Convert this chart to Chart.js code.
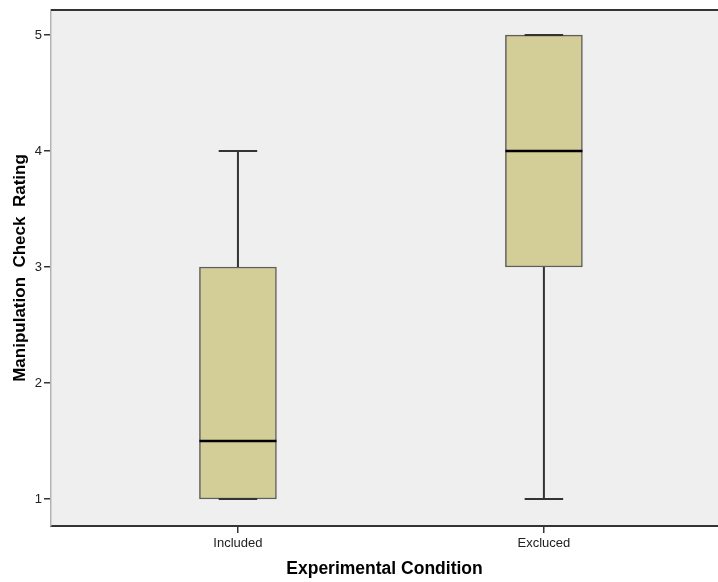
<!DOCTYPE html>
<html>
<head>
<meta charset="utf-8">
<script src="https://cdn.jsdelivr.net/npm/chart.js@4/dist/chart.umd.min.js"></script>
<style>
  html, body { margin: 0; padding: 0; background: #ffffff; }
  #wrap { width: 718px; height: 582px; }
</style>
</head>
<body>
<div id="wrap"><canvas id="c" width="718" height="582"></canvas></div>
<script>
// Five-number summaries for each experimental condition
const categories = ['Included', 'Excluced'];
const positions  = [1, 2];
const minimums   = [1, 1];
const q1s        = [1, 3];
const medians    = [1.5, 4];
const q3s        = [3, 5];
const maximums   = [4, 5];
const yTicks     = [1, 2, 3, 4, 5];

const FONT = "'Liberation Sans', Arial, Helvetica, sans-serif";

// Draws the panel background, whiskers, caps and medians on top of the floating bars
const boxPlot = {
  id: 'boxPlot',
  beforeDraw(chart) {
    const { ctx, chartArea: a } = chart;
    ctx.save();
    ctx.fillStyle = '#efefef';
    ctx.fillRect(a.left, a.top, a.right - a.left, a.bottom - a.top);
    ctx.restore();
  },
  afterDatasetsDraw(chart) {
    const { ctx, scales: { x, y }, chartArea: a } = chart;
    const meta = chart.getDatasetMeta(0);
    ctx.save();
    ctx.lineCap = 'butt';
    positions.forEach((p, i) => {
      const cx = x.getPixelForValue(p);
      const bw = meta.data[i].width;
      const capHalf = bw / 4;
      const yMax = y.getPixelForValue(maximums[i]);
      const yMin = y.getPixelForValue(minimums[i]);
      const yQ1 = y.getPixelForValue(q1s[i]);
      const yQ3 = y.getPixelForValue(q3s[i]);
      const yMed = y.getPixelForValue(medians[i]);

      ctx.strokeStyle = '#333333';
      ctx.lineWidth = 2;
      ctx.beginPath();
      ctx.moveTo(cx, yQ3); ctx.lineTo(cx, yMax);
      ctx.moveTo(cx, yQ1); ctx.lineTo(cx, yMin);
      ctx.moveTo(cx - capHalf, yMax); ctx.lineTo(cx + capHalf, yMax);
      ctx.moveTo(cx - capHalf, yMin); ctx.lineTo(cx + capHalf, yMin);
      ctx.stroke();

      ctx.strokeStyle = '#000000';
      ctx.lineWidth = 2.5;
      ctx.beginPath();
      ctx.moveTo(cx - bw / 2, yMed); ctx.lineTo(cx + bw / 2, yMed);
      ctx.stroke();
    });
    // frame line along the top of the panel
    ctx.strokeStyle = '#333333';
    ctx.lineWidth = 2;
    ctx.beginPath();
    ctx.moveTo(a.left, a.top); ctx.lineTo(a.right, a.top);
    ctx.stroke();
    ctx.restore();
  }
};

new Chart(document.getElementById('c'), {
  type: 'bar',
  data: {
    datasets: [{
      data: positions.map((p, i) => ({ x: p, y: [q1s[i], q3s[i]] })),
      backgroundColor: '#d3ce98',
      borderColor: '#5e5e5e',
      borderWidth: 1.5,
      borderSkipped: false,
      barThickness: 77,
      grouped: false
    }]
  },
  options: {
    responsive: false,
    animation: false,
    layout: { padding: { top: 10, right: 0, left: 0, bottom: 0 } },
    plugins: { legend: { display: false }, tooltip: { enabled: false } },
    scales: {
      x: {
        type: 'linear',
        offset: false,
        min: 0.389,
        max: 2.569,
        afterBuildTicks(scale) { scale.ticks = positions.map(v => ({ value: v })); },
        afterFit(scale) { scale.height = 56; },
        ticks: {
          autoSkip: false,
          maxRotation: 0,
          padding: 3,
          color: '#222222',
          font: { family: FONT, size: 13 },
          callback: (v) => categories[positions.indexOf(v)]
        },
        grid: { offset: false, drawOnChartArea: false, drawTicks: true, tickLength: 7, color: '#333333', lineWidth: 1.5 },
        border: { color: '#333333', width: 2 },
        title: {
          display: true,
          text: 'Experimental Condition',
          color: '#000000',
          font: { family: FONT, size: 17.5, weight: 'bold' },
          padding: { top: 0, bottom: 2 }
        }
      },
      y: {
        type: 'linear',
        min: 0.767,
        max: 5.216,
        afterBuildTicks(scale) { scale.ticks = yTicks.map(v => ({ value: v })); },
        afterFit(scale) { scale.width = 51; },
        ticks: {
          padding: 2,
          color: '#222222',
          font: { family: FONT, size: 13 },
          callback: (v) => String(v)
        },
        grid: { drawOnChartArea: false, drawTicks: true, tickLength: 7, color: '#333333', lineWidth: 1.5 },
        border: { color: '#b4b4b4', width: 1.5 },
        title: {
          display: true,
          text: 'Manipulation  Check  Rating',
          color: '#000000',
          font: { family: FONT, size: 17, weight: 'bold' },
          padding: { top: 10, bottom: 0 }
        }
      }
    }
  },
  plugins: [boxPlot]
});
</script>
</body>
</html>
